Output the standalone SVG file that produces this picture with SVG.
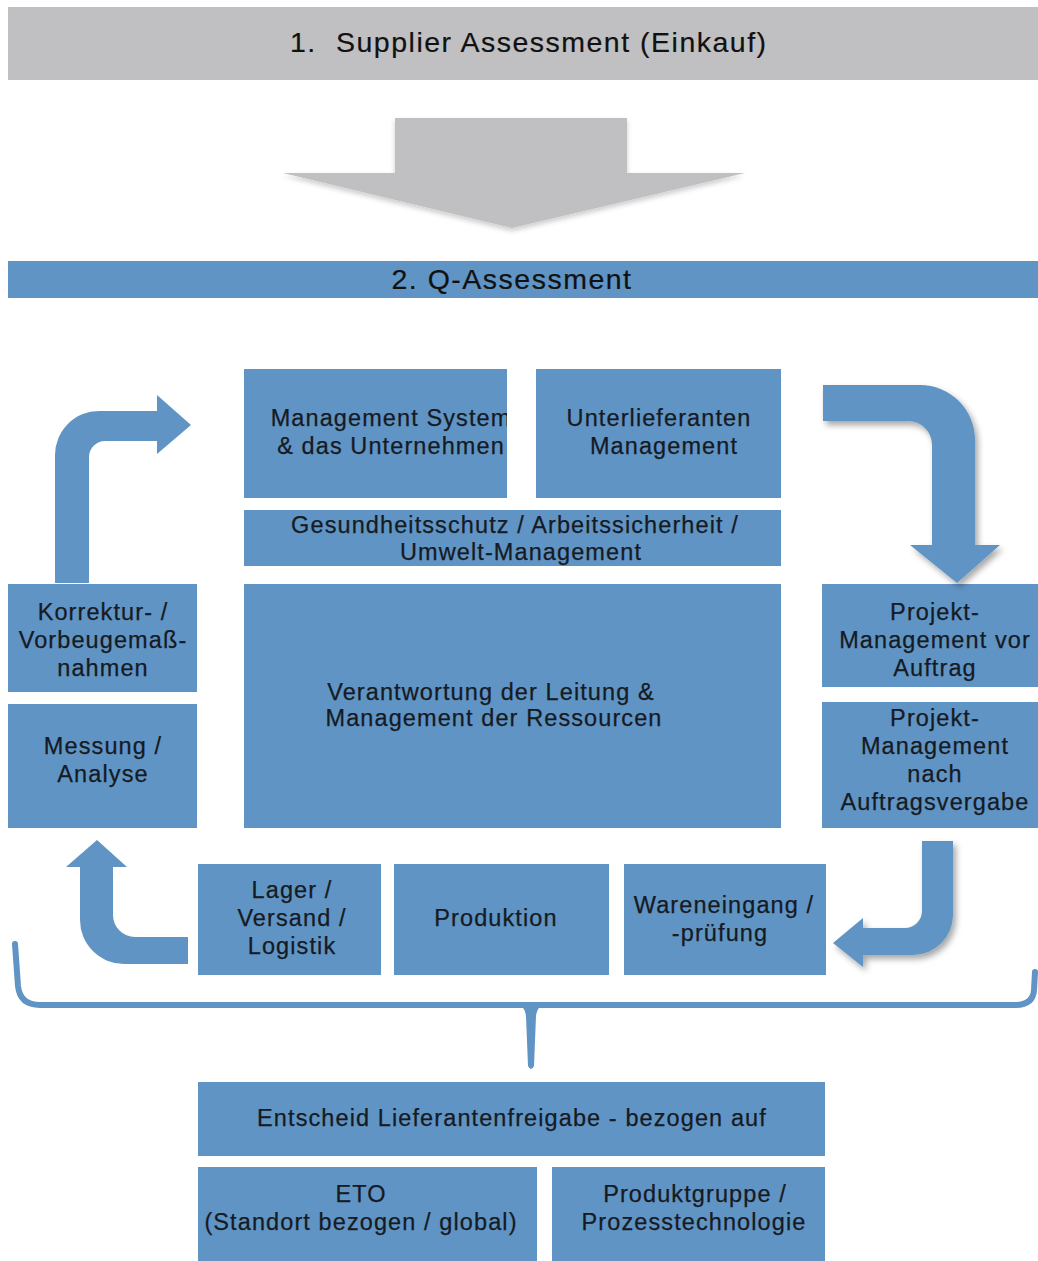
<svg xmlns="http://www.w3.org/2000/svg" width="1038" height="1261" viewBox="0 0 1038 1261">
<style>
.box{fill:#6094c4}
.gray{fill:#c0c0c2}
.t{font-family:"Liberation Sans",Arial,sans-serif;font-size:23.5px;letter-spacing:1.1px;fill:#161a22;stroke:#161a22;stroke-width:0.25;text-anchor:middle}
.h{font-family:"Liberation Sans",Arial,sans-serif;font-size:28.5px;letter-spacing:1.5px;fill:#111;stroke:#111;stroke-width:0.2}
.arr{fill:#6094c4}
.brace{fill:none;stroke:#6094c4;stroke-width:6;stroke-linecap:round;stroke-linejoin:round}
</style>
<defs>
<filter id="sh" x="-20%" y="-20%" width="150%" height="150%">
<feDropShadow dx="3" dy="4" stdDeviation="3" flood-color="#000" flood-opacity="0.35"/>
</filter>
<filter id="shg" x="-20%" y="-20%" width="150%" height="150%">
<feDropShadow dx="0" dy="3" stdDeviation="2.5" flood-color="#000" flood-opacity="0.2"/>
</filter>
<clipPath id="clipMS"><rect x="244" y="369" width="263" height="129"/></clipPath>
</defs>
<rect width="1038" height="1261" fill="#fff"/>

<g id="header1">
<rect class="gray" x="8" y="7" width="1030" height="73"/>
<text class="h" x="290" y="52">1.</text>
<text class="h" x="336" y="52">Supplier Assessment (Einkauf)</text>
</g>

<g id="header2">
<rect class="box" x="8" y="261" width="1030" height="37"/>
<text class="h" x="512" y="289" text-anchor="middle">2. Q-Assessment</text>
</g>

<g id="n-ms">
<rect class="box" x="244" y="369" width="263" height="129"/>
<g clip-path="url(#clipMS)">
<text class="t" x="391" y="426">Management System</text>
<text class="t" x="391" y="454">&amp; das Unternehmen</text>
</g>
</g>
<g id="n-ul">
<rect class="box" x="536" y="369" width="245" height="129"/>
<text class="t" x="659" y="426">Unterlieferanten</text>
<text class="t" x="664" y="454">Management</text>
</g>
<g id="n-ges">
<rect class="box" x="244" y="510" width="537" height="56"/>
<text class="t" x="515" y="533">Gesundheitsschutz / Arbeitssicherheit /</text>
<text class="t" x="521" y="560">Umwelt-Management</text>
</g>
<g id="n-ver">
<rect class="box" x="244" y="584" width="537" height="244"/>
<text class="t" x="491" y="700">Verantwortung der Leitung &amp;</text>
<text class="t" x="494" y="726">Management der Ressourcen</text>
</g>
<g id="n-kor">
<rect class="box" x="8" y="584" width="189" height="108"/>
<text class="t" x="103" y="620">Korrektur- /</text>
<text class="t" x="103" y="648">Vorbeugemaß-</text>
<text class="t" x="103" y="676">nahmen</text>
</g>
<g id="n-mes">
<rect class="box" x="8" y="704" width="189" height="124"/>
<text class="t" x="103" y="754">Messung /</text>
<text class="t" x="103" y="782">Analyse</text>
</g>
<g id="n-pvor">
<rect class="box" x="822" y="584" width="216" height="103"/>
<text class="t" x="935" y="620">Projekt-</text>
<text class="t" x="935" y="648">Management vor</text>
<text class="t" x="935" y="676">Auftrag</text>
</g>
<g id="n-pnach">
<rect class="box" x="822" y="702" width="216" height="126"/>
<text class="t" x="935" y="726">Projekt-</text>
<text class="t" x="935" y="754">Management</text>
<text class="t" x="935" y="782">nach</text>
<text class="t" x="935" y="810">Auftragsvergabe</text>
</g>
<g id="n-lager">
<rect class="box" x="198" y="864" width="183" height="111"/>
<text class="t" x="292" y="898">Lager /</text>
<text class="t" x="292" y="926">Versand /</text>
<text class="t" x="292" y="954">Logistik</text>
</g>
<g id="n-prod">
<rect class="box" x="394" y="864" width="215" height="111"/>
<text class="t" x="496" y="926">Produktion</text>
</g>
<g id="n-ware">
<rect class="box" x="624" y="864" width="202" height="111"/>
<text class="t" x="724" y="913">Wareneingang /</text>
<text class="t" x="720" y="941">-prüfung</text>
</g>
<g id="n-ent">
<rect class="box" x="198" y="1082" width="627" height="74"/>
<text class="t" x="512" y="1126">Entscheid Lieferantenfreigabe - bezogen auf</text>
</g>
<g id="n-eto">
<rect class="box" x="198" y="1167" width="339" height="94"/>
<text class="t" x="361" y="1202">ETO</text>
<text class="t" x="361" y="1230">(Standort bezogen / global)</text>
</g>
<g id="n-pg">
<rect class="box" x="552" y="1167" width="273" height="94"/>
<text class="t" x="695" y="1202">Produktgruppe /</text>
<text class="t" x="694" y="1230">Prozesstechnologie</text>
</g>

<g id="connectors">
<path class="gray" filter="url(#shg)" d="M395,118 L627,118 L627,173 L745,173 L512,228 L283,173 L395,173 Z"/>
<path class="arr" d="M55,583 L55,455 A44,44 0 0 1 99,411 L157,411 L157,395 L191,425 L157,454 L157,441 L105,441 A16,16 0 0 0 89,457 L89,583 Z"/>
<path class="arr" filter="url(#sh)" d="M823,385 L920,385 A55,55 0 0 1 975,440 L975,545 L1000,545 L957,583 L910,545 L932,545 L932,445 A24,24 0 0 0 908,421 L823,421 Z"/>
<path class="arr" d="M188,937 L135,937 A22,22 0 0 1 113,915 L113,867 L127,867 L97,840 L66,867 L80,867 L80,920 A44,44 0 0 0 124,964 L188,964 Z"/>
<path class="arr" filter="url(#sh)" d="M922,841 L953,841 L953,915 A40,40 0 0 1 913,955 L863,955 L863,967 L833,943 L863,918 L863,928 L905,928 A17,17 0 0 0 922,911 Z"/>
<path class="brace" d="M15,944 L18,986 Q20,1005 40,1005 L1015,1005 Q1033,1005 1034,990 L1035,972"/>
<path fill="#6094c4" d="M510,1002 Q524,1002 526,1016 L528,1066 Q531,1072 534,1066 L536,1016 Q538,1002 552,1002 Z"/>
</g>
</svg>
